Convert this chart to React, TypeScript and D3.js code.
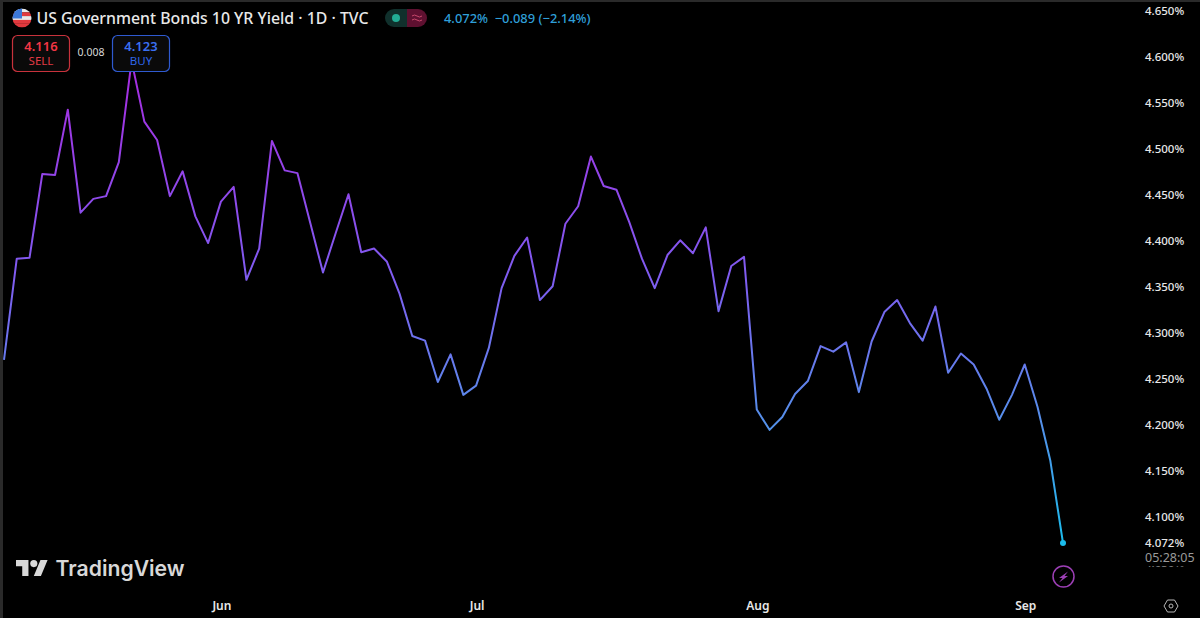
import React, {useEffect, useRef} from "react";
import * as d3 from "d3";

const width = 1200;
const height = 618;

// daily close
const yields = [
    4.271, 4.381, 4.382, 4.473, 4.472, 4.543, 4.431, 4.446, 4.449, 4.486,
    4.596, 4.530, 4.510, 4.449, 4.476, 4.427, 4.398, 4.443, 4.459, 4.358,
    4.392, 4.509, 4.477, 4.474, 4.420, 4.366, 4.409, 4.451, 4.388, 4.392,
    4.378, 4.343, 4.297, 4.292, 4.247, 4.277, 4.233, 4.243, 4.284, 4.349,
    4.384, 4.404, 4.336, 4.351, 4.419, 4.438, 4.492, 4.460, 4.456, 4.421,
    4.381, 4.349, 4.385, 4.401, 4.387, 4.415, 4.324, 4.373, 4.383, 4.217,
    4.195, 4.209, 4.234, 4.248, 4.286, 4.280, 4.290, 4.236, 4.291, 4.323,
    4.336, 4.311, 4.292, 4.329, 4.257, 4.278, 4.266, 4.240, 4.206, 4.233,
    4.266, 4.220, 4.162, 4.072,
];
const yTicks = [4.05, 4.1, 4.15, 4.2, 4.25, 4.3, 4.35, 4.4, 4.45, 4.5, 4.55, 4.6, 4.65];
const monthLabels = ["Jun", "Jul", "Aug", "Sep"];
const monthIndex = [17, 37, 59, 80];
const gradientStops: [number, string][] = [
    [0, "#a82ae0"],
    [0.45, "#7f5cf0"],
    [0.75, "#5590ea"],
    [1, "#1bbcec"],
];
const flagStripes = ["#e8e8e8", "#e0393e", "#e8e8e8", "#e0393e", "#e0393e"];

const uiFont = "'Noto Sans', sans-serif";

export default function App() {
    const axisRef = useRef<SVGGElement>(null);
    const x = d3.scaleLinear().domain([0, yields.length - 1]).range([4, 1063]);
    const y = d3.scaleLinear().domain([4.072, 4.65]).range([543, 11.2]);
    const line = d3.line<number>().x((_, i) => x(i)).y(d => y(d));
    const last = yields[yields.length - 1];

    useEffect(() => {
        const g = d3.select(axisRef.current);
        const axis = d3.axisRight(y).tickValues(yTicks).tickSize(0).tickPadding(0)
            .tickFormat(d => d3.format(".3f")(d as number) + "%");
        g.call(axis as any);
        g.select(".domain").remove();
        g.selectAll("text")
            .attr("fill", "#e8e8e8")
            .style("font-family", uiFont)
            .style("font-size", "11.5px")
            .style("font-weight", "500");
    }, []);

    return (
        <svg width={width} height={height} style={{position: "absolute", left: 0, top: 0, background: "#000"}}>
            <defs>
                <linearGradient id="lineGrad" gradientUnits="userSpaceOnUse" x1={0} x2={0} y1={60} y2={543}>
                    {gradientStops.map(([o, c]) => <stop key={o} offset={o} stopColor={c}/>)}
                </linearGradient>
                <clipPath id="flagClip"><circle cx={22} cy={18} r={9.5}/></clipPath>
            </defs>
            <rect x={0} y={0} width={width} height={2} fill="#2a2a2a"/>
            <rect x={0} y={0} width={3} height={height} fill="#2a2a2a"/>

            <path d={line(yields) ?? ""} fill="none" stroke="url(#lineGrad)" strokeWidth={2} strokeLinejoin="round"/>
            <circle cx={x(yields.length - 1)} cy={y(last)} r={3} fill="#1bbcec"/>

            {/* header */}
            <g clipPath="url(#flagClip)">
                {flagStripes.map((c, i) => <rect key={i} x={12} y={8.5 + i * 3.8} width={20} height={3.9} fill={c}/>)}
                <rect x={12} y={8} width={10} height={10.5} fill="#3c78d8"/>
            </g>
            <text x={36.5} y={24} fill="#e8e8e8" fontFamily={uiFont} fontSize={15.85} fontWeight={500}>US Government Bonds 10 YR Yield · 1D · TVC</text>

            <path d="M394 9h13v18h-13a9 9 0 0 1 0-18z" fill="#10302c"/>
            <path d="M407 9h11a9 9 0 0 1 0 18h-11z" fill="#5e1030"/>
            <circle cx={396} cy={18} r={4} fill="#22ab94"/>
            <path d="M412 16q2.500-2 5 0t5 0M412 20q2.500-2 5 0t5 0" fill="none" stroke="#c8486c" strokeWidth={1}/>
            <text x={444} y={23} fill="#2f9fd8" fontFamily={uiFont} fontSize={12.9} fontWeight={500} xmlSpace="preserve">4.072%  −0.089 (−2.14%)</text>

            <rect x={12.500} y={35.500} width={57} height={36} rx={5} fill="#0a0a0a" stroke="#c8323c" strokeWidth={1.2}/>
            <text x={41} y={51} textAnchor="middle" fill="#f23645" fontFamily={uiFont} fontSize={13} fontWeight={600}>4.116</text>
            <text x={41} y={65} textAnchor="middle" fill="#e03a44" fontFamily={uiFont} fontSize={11.5}>SELL</text>
            <text x={91} y={56} textAnchor="middle" fill="#d8d8d8" fontFamily={uiFont} fontSize={10.5}>0.008</text>
            <rect x={112.500} y={35.500} width={57} height={36} rx={5} fill="#0a0a0a" stroke="#2f5ad0" strokeWidth={1.2}/>
            <text x={141} y={51} textAnchor="middle" fill="#3a6ff0" fontFamily={uiFont} fontSize={13} fontWeight={600}>4.123</text>
            <text x={141} y={65} textAnchor="middle" fill="#2f66e8" fontFamily={uiFont} fontSize={11.5}>BUY</text>

            {/* price axis */}
            <g ref={axisRef} transform="translate(1145,0)"/>
            <rect x={1140} y={534} width={60} height={32.5} fill="#000"/>
            <text x={1145} y={546.500} fill="#e8e8e8" fontFamily={uiFont} fontSize={11.5} fontWeight={500}>{d3.format(".3f")(last)}%</text>
            <text x={1145} y={561.500} fill="#9a9a9a" fontFamily={uiFont} fontSize={12.5}>05:28:05</text>

            {/* time axis */}
            {monthLabels.map((m, i) => (
                <text key={m} x={x(monthIndex[i]) + 1} y={610} textAnchor="middle" fill="#e8e8e8"
                      fontFamily={uiFont} fontSize={12} fontWeight={600}>{m}</text>
            ))}

            {/* TradingView mark */}
            <g transform="translate(16,556.500) scale(0.89)" fill="#d8d8d8">
                <path d="M14 22H7V11H0V4h14v18zM28 22h-8l7.500-18h8L28 22z"/>
                <circle cx={20} cy={8} r={4}/>
            </g>
            <text x={55.500} y={576} fill="#d8d8d8" fontFamily="Inter, sans-serif" fontSize={21.2} fontWeight={600}>TradingView</text>

            {/* bolt + settings */}
            <circle cx={1063.500} cy={576.500} r={10.500} fill="none" stroke="#9c3fb5" strokeWidth={1.5}/>
            <path d="M1068 571.500l-9 6.500h3.500l-3.500 4.500 9-6.500h-3.500z" fill="#9c3fb5"/>
            <path d="M1164 606l3.500-6h7l3.500 6-3.500 6h-7z" fill="none" stroke="#b8b8b8"/>
            <circle cx={1171} cy={606} r={2} fill="none" stroke="#b8b8b8"/>
        </svg>
    );
}
